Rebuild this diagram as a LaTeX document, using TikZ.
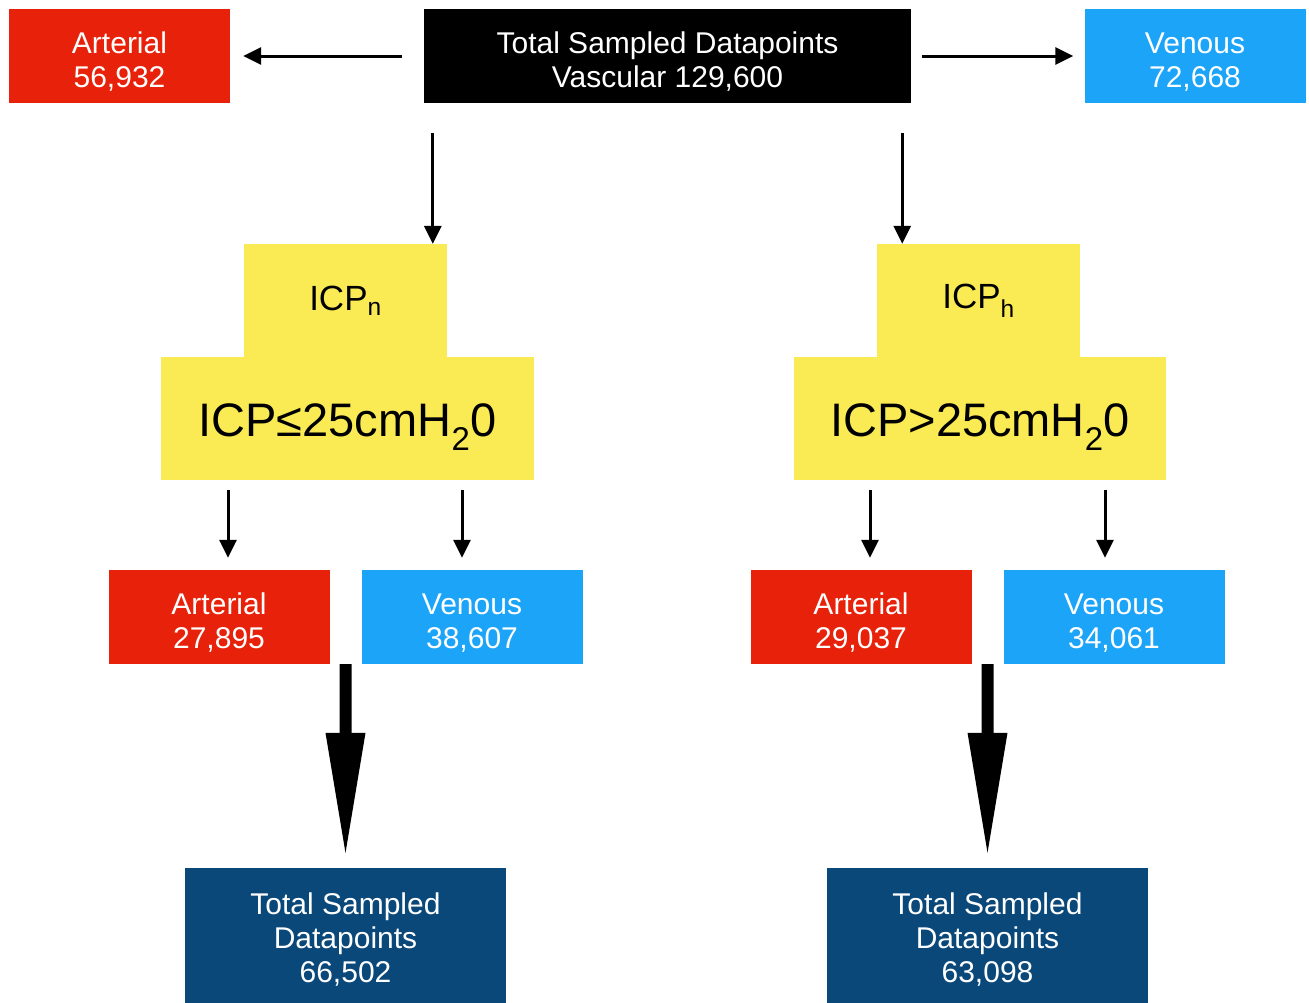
\documentclass[tikz,border=0pt]{standalone}
\usepackage{fontspec}
\setmainfont{Liberation Sans}
\usetikzlibrary{arrows.meta,calc}
\definecolor{artred}{RGB}{232,33,10}
\definecolor{venblue}{RGB}{28,164,248}
\definecolor{icpyellow}{RGB}{250,235,84}
\definecolor{totblue}{RGB}{10,72,122}
\newcommand\boxup[1][32pt]{\rule{0pt}{#1}}
\tikzset{
	box/.style={minimum width=221pt, minimum height=94pt, inner sep=0pt, align=center, text=white, font=\fontsize{30}{34}\selectfont},
	icptop/.style={fill=icpyellow, minimum width=203pt, minimum height=113pt, inner sep=0pt, font=\fontsize{35}{40}\selectfont},
	icpbot/.style={fill=icpyellow, minimum width=373pt, minimum height=123pt, inner sep=0pt, font=\fontsize{47}{50}\selectfont, execute at begin node={\rule{0pt}{50pt}}},
	arr/.style={-{Triangle[length=18pt,width=17pt]}, line width=3pt},
	bigarr/.style={-{Triangle[length=120pt,width=40pt,line width=0pt]}, line width=12pt}
}

\begin{document}
\begin{tikzpicture}[x=1pt,y=-1pt]
			%%%%% START %%%%%
			\useasboundingbox (0,0) rectangle (1309,1002);
			
			\node[box, fill=black, minimum width=487pt] (total) at (667.5,56) {\boxup Total Sampled Datapoints\\Vascular 129,600};
			\node[box, fill=artred] (art) at (119.5,56) {\boxup Arterial\\56,932};
			\node[box, fill=venblue] (ven) at (1195,56) {\boxup Venous\\72,668};
			
			\draw[arr, shorten <=22pt, shorten >=13pt] (total.west) -- (art.east);
			\draw[arr, shorten <=11pt, shorten >=11pt] (total.east) -- (ven.west);
			
			% normal ICP branch
			\node[icptop] (icpn) at (345.5,300.5) {ICP\textsubscript{n}};
			\node[icpbot] (icpnlim) at (347.5,418.5) {ICP≤25cmH\textsubscript{2}0};
			
			% high ICP branch
			\node[icptop] (icph) at (978.5,300.5) {ICP\textsubscript{h}};
			\node[icpbot, minimum width=372pt] (icphlim) at (980,418.5) {ICP>25cmH\textsubscript{2}0};
			
			\draw[arr, shorten <=30pt] ([xshift=9pt]total.south west) -- ([xshift=9pt]total.south west |- icpn.north);
			\draw[arr, shorten <=30pt] ([xshift=-9pt]total.south east) -- ([xshift=-9pt]total.south east |- icph.north);
			
			\node[box, fill=artred] (arta) at (219,617) {\boxup Arterial\\27,895};
			\node[box, fill=venblue] (vena) at (472,617) {\boxup Venous\\38,607};
			\node[box, fill=artred] (artb) at (861,617) {\boxup Arterial\\29,037};
			\node[box, fill=venblue] (venb) at (1114,617) {\boxup Venous\\34,061};
			
			\draw[arr, shorten <=10pt, shorten >=12pt] ([xshift=9pt]icpnlim.south -| arta.north) -- ([xshift=9pt]arta.north);
			\draw[arr, shorten <=10pt, shorten >=12pt] ([xshift=-10pt]icpnlim.south -| vena.north) -- ([xshift=-10pt]vena.north);
			\draw[arr, shorten <=10pt, shorten >=12pt] ([xshift=9pt]icphlim.south -| artb.north) -- ([xshift=9pt]artb.north);
			\draw[arr, shorten <=10pt, shorten >=12pt] ([xshift=-9pt]icphlim.south -| venb.north) -- ([xshift=-9pt]venb.north);
			
			\node[box, fill=totblue, minimum width=321pt, minimum height=138pt] (totn) at (345.5,937) {\boxup[26pt]Total Sampled\\Datapoints\\66,502};
			\node[box, fill=totblue, minimum width=321pt, minimum height=138pt] (toth) at (987.5,937) {\boxup[26pt]Total Sampled\\Datapoints\\63,098};
			
			\draw[bigarr, shorten >=15pt] ($(arta.south east)!.5!(vena.south west)$) -- (totn.north);
			\draw[bigarr, shorten >=15pt] ($(artb.south east)!.5!(venb.south west)$) -- (toth.north);
			
			%%%%% END %%%%%
\end{tikzpicture}
\end{document}
